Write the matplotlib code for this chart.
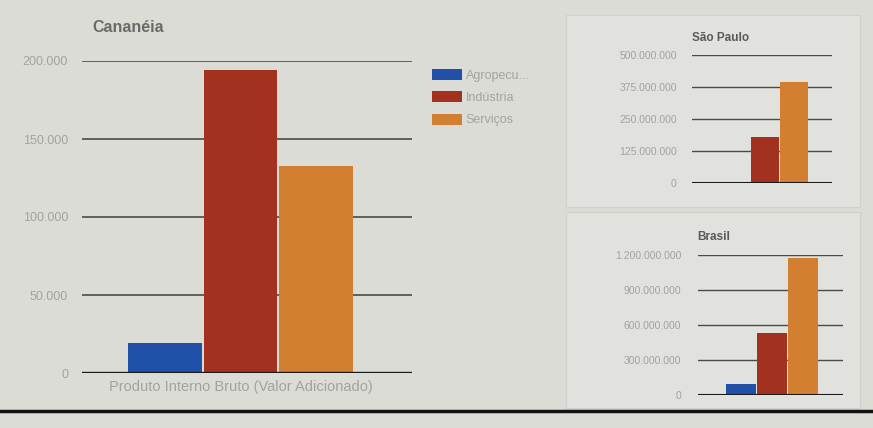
import matplotlib
matplotlib.use('Agg')
import matplotlib.pyplot as plt
import matplotlib.ticker as ticker
from matplotlib.patches import Rectangle
from matplotlib.lines import Line2D

plt.rcParams['font.family'] = ['Liberation Sans', 'DejaVu Sans']

# sectors and their value added
setores = ['Agropecuária', 'Indústria', 'Serviços']
legenda = ['Agropecu...', 'Indústria', 'Serviços']
cores = ['#2150a8', '#a3311f', '#d27f31']

cananeia = [19500, 194000, 133000]
sao_paulo = [4000000, 180000000, 394000000]
brasil = [95000000, 530000000, 1175000000]

ticks_cananeia = [0, 50000, 100000, 150000, 200000]
ticks_sp = [0, 125000000, 250000000, 375000000, 500000000]
ticks_br = [0, 300000000, 600000000, 900000000, 1200000000]

W, H = 873, 428
fig = plt.figure(figsize=(W / 100, H / 100), dpi=100)
fig.patch.set_facecolor('#dcdcd7')
cinza = '#a2a2a0'


def box(x0, y0, x1, y1):
    # pixel box (top-left origin) -> figure fraction
    return [x0 / W, 1 - y1 / H, (x1 - x0) / W, (y1 - y0) / H]


def milhar(v, pos):
    return f'{int(v):,}'.replace(',', '.')


def grafico(ax, valores, ticks, xlim, fsize, pad, lw):
    ax.set_facecolor('none')
    for i, (v, c) in enumerate(zip(valores, cores)):
        ax.bar(i - 1, v, width=0.97, color=c, label=legenda[i], zorder=3)
    ax.set_xlim(*xlim)
    ax.set_ylim(ticks[0], ticks[-1])
    ax.set_yticks(ticks)
    ax.yaxis.set_major_formatter(ticker.FuncFormatter(milhar))
    for t in ticks[1:]:
        ax.axhline(t, color='#4a4a4a', lw=lw, zorder=2)
    ax.axhline(0, color='#1a1a1a', lw=lw + 0.5, zorder=4)
    for s in ax.spines.values():
        s.set_visible(False)
    ax.tick_params(axis='y', length=0, labelsize=fsize, labelcolor=cinza, pad=pad)
    ax.tick_params(axis='x', length=0)


# right column panels, kept behind the axes
for y0, y1 in [(15, 207), (212, 408)]:
    fig.patches.append(Rectangle((566 / W, 1 - y1 / H), 294 / W, (y1 - y0) / H,
                                 transform=fig.transFigure, facecolor='#e1e1dd',
                                 edgecolor='#d0d0cc', lw=0.8, zorder=-1))

# Cananéia
ax = fig.add_axes(box(82, 61, 412, 373))
grafico(ax, cananeia, ticks_cananeia, (-2.1, 2.27), 9, 10, 1.2)
ax.set_xticks([0])
ax.set_xticklabels(['Produto Interno Bruto (Valor Adicionado)'], fontsize=10.5, color=cinza)
ax.tick_params(axis='x', pad=5)
fig.text(92 / W, 1 - 28 / H, 'Cananéia', fontsize=11.5, fontweight='bold', color='#6a6a6a', va='center')
leg = ax.legend(loc='upper left', bbox_to_anchor=(432 / W, 1 - 69 / H), bbox_transform=fig.transFigure,
                frameon=False, fontsize=9, handlelength=2.4, handleheight=1.0,
                labelspacing=0.75, handletextpad=0.3, borderaxespad=0, borderpad=0)
for t in leg.get_texts():
    t.set_color(cinza)

# São Paulo
ax2 = fig.add_axes(box(692, 55, 832, 183))
grafico(ax2, sao_paulo, ticks_sp, (-2.52, 2.31), 7.5, 11, 1.0)
ax2.set_xticks([])
fig.text(692 / W, 1 - 38 / H, 'São Paulo', fontsize=8.5, fontweight='bold', color='#5a5a5a', va='center')

# Brasil
ax3 = fig.add_axes(box(698, 255, 843, 395))
grafico(ax3, brasil, ticks_br, (-2.39, 2.29), 7.5, 12, 1.0)
ax3.set_xticks([])
fig.text(697 / W, 1 - 237 / H, 'Brasil', fontsize=8.5, fontweight='bold', color='#5a5a5a', va='center')

# page rule at the bottom
fig.add_artist(Line2D([0, 1], [1 - 411 / H, 1 - 411 / H], transform=fig.transFigure,
                      color='#111111', lw=2.5))

fig.savefig('out.png', dpi=100, facecolor=fig.get_facecolor())
